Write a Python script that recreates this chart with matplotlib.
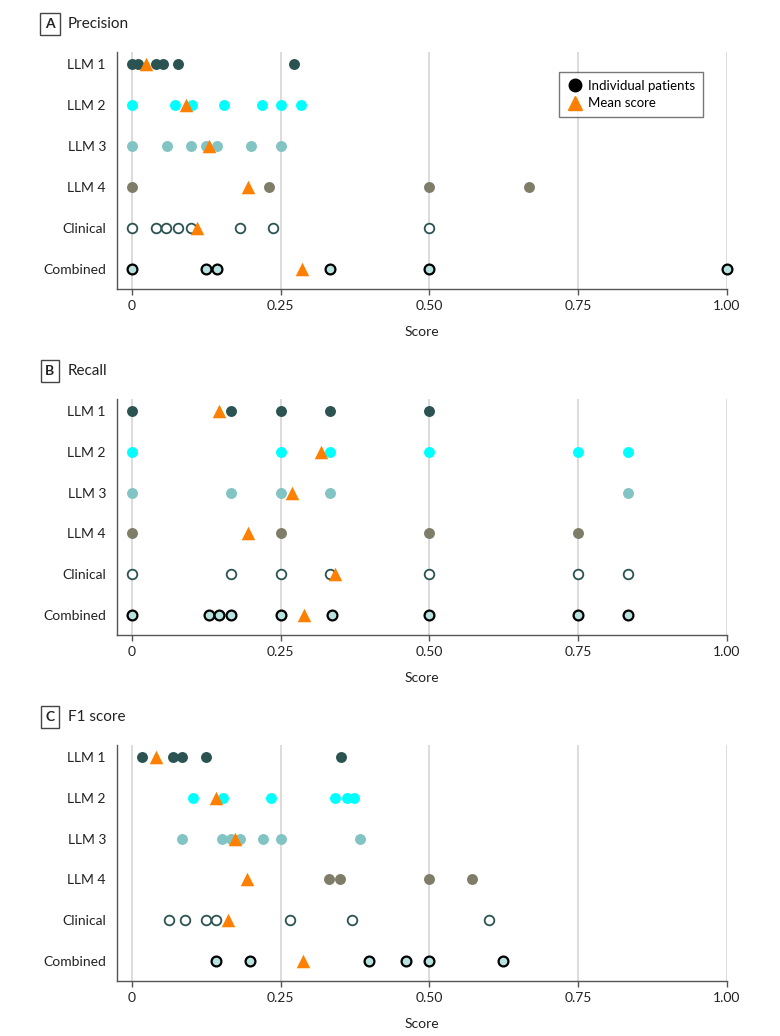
import numpy as np
import matplotlib
matplotlib.use("Agg")
import matplotlib.pyplot as plt
from matplotlib.lines import Line2D

plt.rcParams['font.family'] = ['Lato', 'DejaVu Sans']

groups = ["LLM 1", "LLM 2", "LLM 3", "LLM 4", "Clinical", "Combined"]

# Precision (A)
prec_llm1 = [0, 0.011, 0.04, 0.053, 0.077, 0.273]
prec_llm2 = [0, 0.072, 0.101, 0.154, 0.218, 0.25, 0.285]
prec_llm3 = [0, 0.059, 0.10, 0.124, 0.143, 0.20, 0.25]
prec_llm4 = [0, 0.231, 0.5, 0.667]
prec_clin = [0, 0.04, 0.057, 0.078, 0.10, 0.181, 0.237, 0.5]
prec_comb = [0, 0.125, 0.143, 0.333, 0.5, 1.0]
prec_mean = [0.024, 0.091, 0.129, 0.195, 0.109, 0.286]

# Recall (B)
rec_llm1 = [0, 0.167, 0.25, 0.333, 0.5]
rec_llm2 = [0, 0.25, 0.333, 0.5, 0.75, 0.833]
rec_llm3 = [0, 0.167, 0.25, 0.333, 0.833]
rec_llm4 = [0, 0.25, 0.5, 0.75]
rec_clin = [0, 0.167, 0.25, 0.333, 0.5, 0.75, 0.833]
rec_comb = [0, 0.129, 0.147, 0.167, 0.25, 0.336, 0.5, 0.75, 0.833]
rec_mean = [0.147, 0.317, 0.269, 0.195, 0.342, 0.29]

# F1 score (C)
f1_llm1 = [0.017, 0.069, 0.085, 0.124, 0.351]
f1_llm2 = [0.102, 0.153, 0.233, 0.342, 0.362, 0.374]
f1_llm3 = [0.085, 0.152, 0.166, 0.181, 0.221, 0.25, 0.384]
f1_llm4 = [0.331, 0.35, 0.5, 0.571]
f1_clin = [0.063, 0.09, 0.124, 0.141, 0.266, 0.37, 0.6]
f1_comb = [0.141, 0.198, 0.398, 0.46, 0.5, 0.624]
f1_mean = [0.040, 0.141, 0.173, 0.193, 0.161, 0.287]

panels = [
    ("A", "Precision", [prec_llm1, prec_llm2, prec_llm3, prec_llm4, prec_clin, prec_comb], prec_mean),
    ("B", "Recall", [rec_llm1, rec_llm2, rec_llm3, rec_llm4, rec_clin, rec_comb], rec_mean),
    ("C", "F1 score", [f1_llm1, f1_llm2, f1_llm3, f1_llm4, f1_clin, f1_comb], f1_mean),
]

# marker style for each group: (face, edge, linewidth, size)
styles = [
    ("#2a5352", "#2a5352", 0, 62),
    ("#00ffff", "#00ffff", 0, 62),
    ("#82c4c3", "#82c4c3", 0, 62),
    ("#7f7d68", "#7f7d68", 0, 62),
    ("white", "#2a5352", 1.3, 48),
    ("#b8e2e0", "black", 1.6, 50),
]
tri_color = "#ff7f00"
spine_col = "#555555"

fig = plt.figure(figsize=(7.8, 10.36), dpi=100)
W, H = 780, 1036

# axes boxes in pixels: (top, bottom)
boxes = [(52, 289), (399, 635), (745, 981)]
title_y = [24, 371, 717]

for (lab, name, data, means), (top, bot), ty in zip(panels, boxes, title_y):
    ax = fig.add_axes([117 / W, 1 - bot / H, 610 / W, (bot - top) / H])
    ax.set_xlim(-0.025, 1.0)
    ax.set_ylim(5.5, -0.3)
    for g in [0, 0.25, 0.5, 0.75, 1.0]:
        ax.axvline(g, color="#d9d9d9", lw=1.3, zorder=0)
    for i, vals in enumerate(data):
        fc, ec, lw, s = styles[i]
        ax.scatter(vals, [i] * len(vals), s=s, c=fc, edgecolors=ec,
                   linewidths=lw, zorder=3, clip_on=False)
    ax.scatter(means, range(len(means)), marker="^", s=95, c=tri_color,
               linewidths=0, zorder=4, clip_on=False)
    ax.set_yticks(range(len(groups)))
    ax.set_yticklabels(groups)
    ax.set_xticks([0, 0.25, 0.5, 0.75, 1.0])
    ax.set_xticklabels(["0", "0.25", "0.50", "0.75", "1.00"])
    ax.tick_params(axis="y", length=0, pad=8, labelsize=10, labelcolor="#222222")
    ax.tick_params(axis="x", length=4, width=1, color=spine_col, pad=4,
                   labelsize=10, labelcolor="#222222")
    ax.spines["top"].set_visible(False)
    ax.spines["right"].set_visible(False)
    for sp in ["left", "bottom"]:
        ax.spines[sp].set_color(spine_col)
        ax.spines[sp].set_linewidth(1.0)
    ax.set_xlabel("Score", fontsize=10, color="#222222", labelpad=10)

    fig.text(50 / W, 1 - ty / H, lab, fontsize=10, fontweight="bold",
             ha="center", va="center", color="#222222",
             bbox=dict(boxstyle="square,pad=0.35", fc="white", ec="#444444", lw=1))
    fig.text(68 / W, 1 - ty / H, name, fontsize=11, ha="left", va="center",
             color="#222222")

    if lab == "A":
        handles = [
            Line2D([], [], marker="o", ls="", color="black", markersize=9),
            Line2D([], [], marker="^", ls="", color=tri_color, markersize=10),
        ]
        leg = ax.legend(handles, ["Individual patients", "Mean score"],
                        loc="upper left",
                        bbox_to_anchor=((559 - 117) / 610, 1 - (72 - 52) / (bot - top)),
                        borderaxespad=0, frameon=True, fancybox=False, fontsize=9.5,
                        handletextpad=0.4, borderpad=0.6, labelspacing=0.4,
                        handlelength=1.2)
        leg.get_frame().set_edgecolor("#555555")
        leg.get_frame().set_linewidth(1.0)

fig.savefig("out.png", dpi=100)
